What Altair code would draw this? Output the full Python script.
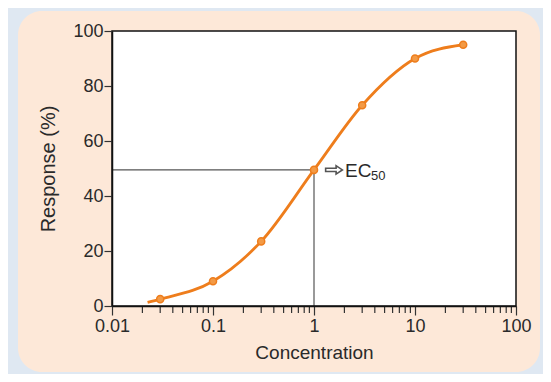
import altair as alt
import pandas as pd

# measured data points
conc = [0.03, 0.1, 0.3, 1, 3, 10, 30]
resp = [2.5, 9.0, 23.5, 49.5, 73.0, 90.0, 95.0]
# curve starts a little before the first point
curve_conc = [0.0225] + conc
curve_resp = [1.3] + resp

ec50_conc = 1
ec50_resp = 49.5

x_ticks = [0.01, 0.1, 1, 10, 100]
y_ticks = [0, 20, 40, 60, 80, 100]
minor_ticks = [m * d for d in [0.01, 0.1, 1, 10] for m in range(2, 10)]

pts = pd.DataFrame({"conc": conc, "resp": resp})
curve = pd.DataFrame({"conc": curve_conc, "resp": curve_resp})
minors = pd.DataFrame({"conc": minor_ticks})
ec = pd.DataFrame({"conc": [ec50_conc], "resp": [ec50_resp], "x0": [0.01], "y0": [0]})

FONT = "Liberation Sans"
ORANGE = "#ee7d1c"
TXT = "#2a2a2a"
W, H = 404, 275

xscale = alt.Scale(type="log", domain=[0.01, 100], nice=False)
yscale = alt.Scale(domain=[0, 100], nice=False)

xaxis = alt.Axis(values=x_ticks, format="~g", tickSize=9, labelFontSize=18,
                 labelFont=FONT, labelColor=TXT, titleFont=FONT, titleFontSize=19,
                 titleFontWeight="normal", titleColor=TXT, labelPadding=2,
                 titlePadding=8, grid=False, domainColor="#111", tickColor="#333",
                 domainWidth=1.5, tickWidth=1.2, labelFlush=False, zindex=2)
yaxis = alt.Axis(values=y_ticks, tickSize=8, labelFontSize=18, labelFont=FONT,
                 labelColor=TXT, titleFont=FONT, titleFontSize=20,
                 titleFontWeight="normal", titleColor=TXT, labelPadding=1,
                 titlePadding=14, grid=False, domainColor="#111", tickColor="#333",
                 domainWidth=1.5, tickWidth=1.2, labelFlush=False, zindex=2)

# decorative panel (peach rounded card) and white plot area
panel = alt.Chart(ec).mark_rect(color="#fde8d8", cornerRadius=24).encode(
    x=alt.value(-94), x2=alt.value(428), y=alt.value(-20), y2=alt.value(341))
plotbg = alt.Chart(ec).mark_rect(color="white").encode(
    x=alt.value(0), x2=alt.value(W), y=alt.value(0), y2=alt.value(H))
frame = alt.Chart(ec).mark_rect(fill="transparent", stroke="#111", strokeWidth=1.5).encode(
    x=alt.value(0), x2=alt.value(W), y=alt.value(0), y2=alt.value(H))

line = alt.Chart(curve).mark_line(color=ORANGE, strokeWidth=2.8, interpolate="monotone").encode(
    x=alt.X("conc:Q", scale=xscale, axis=xaxis, title="Concentration"),
    y=alt.Y("resp:Q", scale=yscale, axis=yaxis, title="Response (%)"),
)

points = alt.Chart(pts).mark_point(filled=True, color="#f39a45", size=50, opacity=1,
                                   stroke=ORANGE, strokeWidth=1.5).encode(
    x=alt.X("conc:Q", scale=xscale), y=alt.Y("resp:Q", scale=yscale))

hrule = alt.Chart(ec).mark_rule(color="#555", strokeWidth=1.2).encode(
    x=alt.X("x0:Q", scale=xscale), x2="conc:Q", y=alt.Y("resp:Q", scale=yscale))
vrule = alt.Chart(ec).mark_rule(color="#555", strokeWidth=1.2).encode(
    x=alt.X("conc:Q", scale=xscale), y=alt.Y("y0:Q", scale=yscale), y2="resp:Q")

minor = alt.Chart(minors).mark_rule(color="#333", strokeWidth=1.2).encode(
    x=alt.X("conc:Q", scale=xscale), y=alt.value(H + 1), y2=alt.value(H + 7))

ARROW = "M -1 -0.2 L 0.25 -0.2 L 0.25 -0.5 L 1 0 L 0.25 0.5 L 0.25 0.2 L -1 0.2 Z"
arrow = alt.Chart(ec).mark_point(shape=ARROW, size=280, filled=True, fill="white",
                                 stroke="#555", strokeWidth=1.6, opacity=1,
                                 xOffset=20).encode(
    x=alt.X("conc:Q", scale=xscale), y=alt.Y("resp:Q", scale=yscale))
ectext = alt.Chart(ec).mark_text(text="EC", font=FONT, fontSize=19, color=TXT,
                                 align="left", baseline="middle", dx=31, dy=1).encode(
    x=alt.X("conc:Q", scale=xscale), y=alt.Y("resp:Q", scale=yscale))
sub = alt.Chart(ec).mark_text(text="50", font=FONT, fontSize=13, color=TXT,
                              align="left", baseline="middle", dx=57, dy=6).encode(
    x=alt.X("conc:Q", scale=xscale), y=alt.Y("resp:Q", scale=yscale))

chart = alt.layer(panel, plotbg, line, hrule, vrule, minor, points, arrow, ectext, sub,
                  frame).properties(
    width=W, height=H,
    autosize=alt.AutoSizeParams(type="none"),
    padding={"left": 104, "top": 23, "right": 27, "bottom": 68},
    background="#dfe8f2",
).configure_view(strokeWidth=0, fill="white")

chart.save("out.html", embed_options={"renderer": "svg", "actions": False})
